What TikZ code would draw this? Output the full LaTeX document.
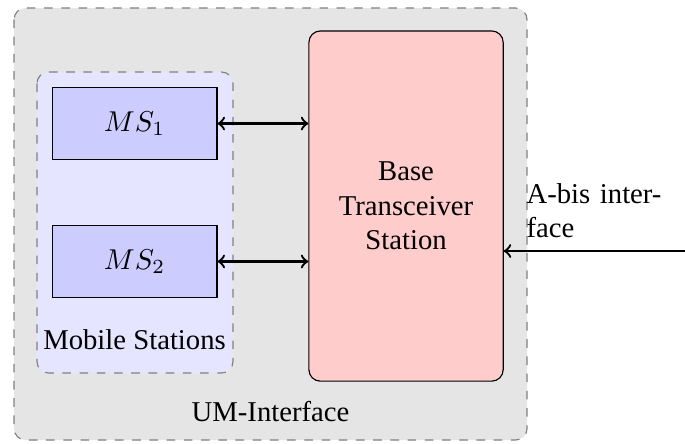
\documentclass[tikz,border=0pt]{standalone}
\usepackage{fontspec}
\setmainfont{LiberationSerif}[Extension=.ttf, UprightFont=*-Regular, BoldFont=*-Bold, ItalicFont=*-Italic, BoldItalicFont=*-BoldItalic]
\usetikzlibrary{positioning}
\tikzset{
  msbox/.style={draw, fill=blue!20, minimum width=2.02cm, minimum height=0.89cm},
  btsbox/.style={draw, fill=red!20, rounded corners, minimum width=2.38cm, minimum height=4.29cm, text width=2cm, align=center},
  zone/.style={draw=gray, dashed, rounded corners},
  link/.style={thick}
}
\begin{document}
\begin{tikzpicture}
\useasboundingbox (0,0) rectangle (8.391,-5.427);
\draw[zone, fill=gray!20] (0.172,-0.098) rectangle (6.456,-5.39);
\draw[zone, fill=blue!10] (0.453,-0.882) rectangle (2.854,-4.569);

\node[msbox] (ms1) at (1.648,-1.513) {$MS_1$};
\node[msbox] (ms2) at (1.648,-3.203) {$MS_2$};
\node (mslabel) at (1.648,-4.165) {Mobile Stations};
\node[btsbox] (bts) at (4.974,-2.524) {Base Transceiver Station};
\node (um) at (3.314,-5.035) {UM-Interface};

\coordinate (abisin) at (8.391,-3.075);
\node[anchor=north west, text width=1.75cm, inner sep=0pt] (abis) at (6.444,-2.242) {A-bis interface};

\draw[link, <->] (ms1) -- (ms1 -| bts.west);
\draw[link, <->] (ms2) -- (ms2 -| bts.west);
\draw[link, ->] (abisin) -- (abisin -| bts.east);
\end{tikzpicture}
\end{document}
